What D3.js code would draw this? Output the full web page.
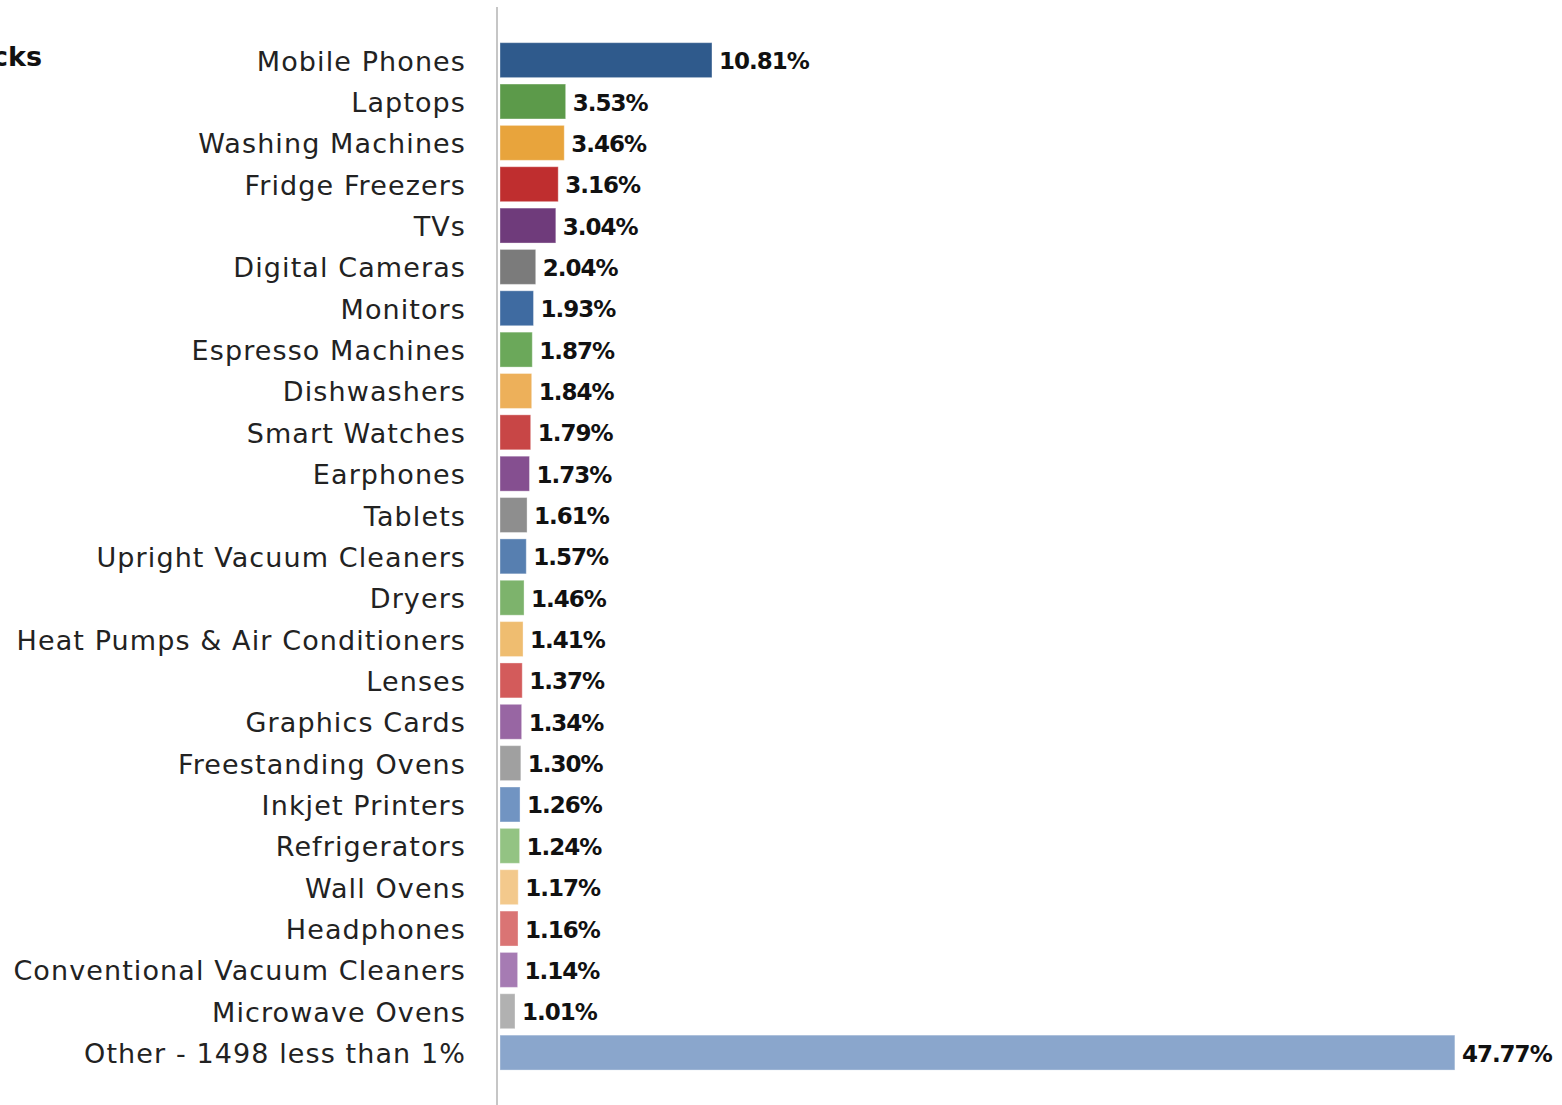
<!DOCTYPE html>
<html>
<head>
<meta charset="utf-8">
<script src="https://cdn.jsdelivr.net/npm/d3@7/dist/d3.min.js"></script>
<style>
  html, body { margin: 0; padding: 0; background: #ffffff; overflow: hidden; }
  svg { display: block; }
</style>
</head>
<body>
<svg id="chart" width="1562" height="1105"></svg>
<script>
// Share of listings by product category
const categories = [
  "Mobile Phones", "Laptops", "Washing Machines", "Fridge Freezers", "TVs",
  "Digital Cameras", "Monitors", "Espresso Machines", "Dishwashers", "Smart Watches",
  "Earphones", "Tablets", "Upright Vacuum Cleaners", "Dryers", "Heat Pumps & Air Conditioners",
  "Lenses", "Graphics Cards", "Freestanding Ovens", "Inkjet Printers", "Refrigerators",
  "Wall Ovens", "Headphones", "Conventional Vacuum Cleaners", "Microwave Ovens",
  "Other - 1498 less than 1%"
];
const shares = [
  10.81, 3.53, 3.46, 3.16, 3.04,
  2.04, 1.93, 1.87, 1.84, 1.79,
  1.73, 1.61, 1.57, 1.46, 1.41,
  1.37, 1.34, 1.30, 1.26, 1.24,
  1.17, 1.16, 1.14, 1.01,
  47.77
];
const barColors = [
  "#2f5a8c", "#5c9a4a", "#e8a43c", "#bf2e2f", "#6f3b7b",
  "#7b7b7b", "#3f6ba1", "#6ba85a", "#edb05a", "#c84646",
  "#854f90", "#8e8e8e", "#577fb0", "#7db36c", "#efbd70",
  "#d35b5b", "#9866a3", "#a0a0a0", "#7194c2", "#93c383",
  "#f3c98c", "#da7474", "#a67bb3", "#b1b1b1", "#8aa6cc"
];
const titleText = "Stocks";

const rows = categories.map((c, i) => ({ name: c, value: shares[i], color: barColors[i] }));

const svg = d3.select("#chart");
const W = 1562, H = 1105;
const axisX = 497;      // category axis line
const barStart = 500;   // bars begin just past the axis line

const x = d3.scaleLinear().domain([0, 50]).range([494.7, 494.7 + 20.1 * 50]);
const y = d3.scaleBand()
  .domain(categories)
  .range([39.5, 39.5 + 41.35 * categories.length])
  .paddingInner(0.155)
  .paddingOuter(0.077);

// Title (runs off the left edge)
svg.append("text")
  .attr("x", 42).attr("y", 56)
  .attr("text-anchor", "end")
  .attr("dominant-baseline", "central")
  .attr("font-family", "'DejaVu Sans', sans-serif")
  .attr("font-weight", "bold")
  .attr("font-size", 27)
  .attr("fill", "#111")
  .text(titleText);

// Category labels
svg.append("g")
  .selectAll("text")
  .data(rows)
  .join("text")
  .attr("x", 466)
  .attr("y", d => y(d.name) + y.bandwidth() / 2 + 1)
  .attr("text-anchor", "end")
  .attr("dominant-baseline", "central")
  .attr("font-family", "'DejaVu Sans', sans-serif")
  .attr("font-size", 27)
  .attr("letter-spacing", 1.1)
  .attr("fill", "#222")
  .text(d => d.name);

// Bars
svg.append("g")
  .selectAll("rect")
  .data(rows)
  .join("rect")
  .attr("x", barStart)
  .attr("y", d => y(d.name))
  .attr("width", d => x(d.value) - barStart)
  .attr("height", y.bandwidth())
  .attr("fill", d => d.color)
  .attr("stroke", "rgba(255,255,255,0.35)")
  .attr("stroke-width", 1);

// Value labels
svg.append("g")
  .selectAll("text")
  .data(rows)
  .join("text")
  .attr("x", d => x(d.value) + 7)
  .attr("y", d => y(d.name) + y.bandwidth() / 2 + 1)
  .attr("dominant-baseline", "central")
  .attr("font-family", "'DejaVu Sans', sans-serif")
  .attr("font-weight", "bold")
  .attr("font-size", 23)
  .attr("letter-spacing", -1)
  .attr("fill", "#111")
  .text(d => d.value.toFixed(2) + "%");

// Axis line
svg.append("line")
  .attr("x1", axisX).attr("x2", axisX)
  .attr("y1", 7).attr("y2", H)
  .attr("stroke", "#c6c6c6")
  .attr("stroke-width", 2);
</script>
</body>
</html>
